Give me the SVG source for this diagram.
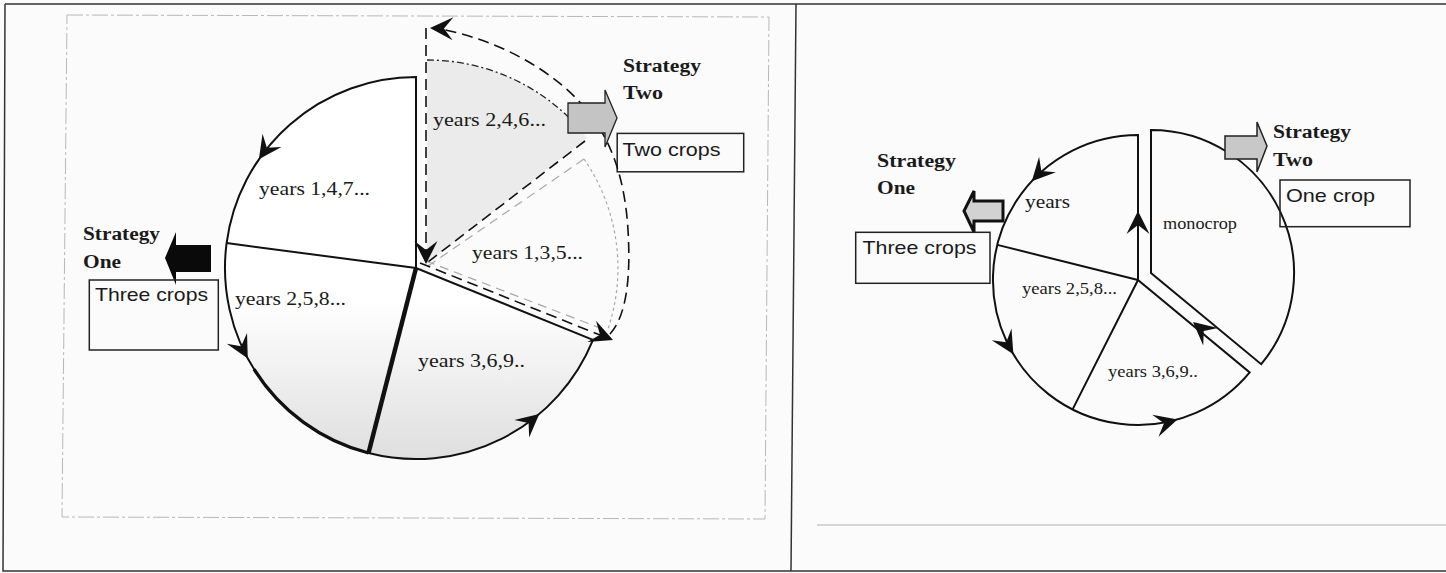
<svg xmlns="http://www.w3.org/2000/svg" width="1446" height="573" viewBox="0 0 1446 573">
<defs>
<style>
.ser{font-family:"Liberation Serif","Times New Roman",serif;fill:#1a1a1a}
.bold{font-weight:bold}
.sans{font-family:"Liberation Sans",Arial,sans-serif;fill:#1a1a1a}
.ln{stroke:#111;stroke-width:2;fill:none}
.box{fill:none;stroke:#222;stroke-width:1.5}
.dash{stroke:#111;stroke-width:1.6;fill:none;stroke-dasharray:11 6}
.gdash{stroke:#a8a8a8;stroke-width:1.2;fill:none;stroke-dasharray:9 6}
.gdot{stroke:#a8a8a8;stroke-width:1.2;fill:none;stroke-dasharray:3 3}
.dashdot{stroke:#222;stroke-width:1.3;fill:none;stroke-dasharray:7 3 2 3}
.ah{fill:#111}
</style>
<linearGradient id="lowg" gradientUnits="userSpaceOnUse" x1="0" y1="300" x2="0" y2="460">
<stop offset="0" stop-color="#ffffff"/><stop offset="1" stop-color="#dedede"/>
</linearGradient>
<path id="ah" d="M0,0 L-23,-11.5 L-14,0 L-23,11.5 Z"/>
</defs>
<rect width="1446" height="573" fill="#fbfbfb"/>
<g id="frame">
<path d="M5,4 H1446 M5,4 L3,571 H1446" stroke="#333" stroke-width="1.5" fill="none"/>
<line x1="796" y1="4" x2="791" y2="571" stroke="#333" stroke-width="1.5"/>
<polygon points="67,15 769,17 765,519 62,517" fill="none" stroke="#b8b8b8" stroke-width="1" stroke-dasharray="16 3 3 3"/>
<line x1="817" y1="525" x2="1446" y2="525" stroke="#b0b0b0" stroke-width="1"/>
</g>

<!-- LEFT PANEL -->
<g id="left-sector-247">
<path d="M427,263 L427,60 A203,203 0 0 1 587,138 Z" fill="#ebebeb"/>
<path class="dashdot" d="M427,60 A203,203 0 0 1 578,127"/>
<text class="ser" x="433" y="126" font-size="19" textLength="113" lengthAdjust="spacingAndGlyphs">years 2,4,6...</text>
</g>
<g id="left-sector-147">
<path d="M416,268 L416,77 A191,191 0 0 0 226.6,243.1 Z" fill="#fff"/>
<text class="ser" x="259" y="195" font-size="19" textLength="111" lengthAdjust="spacingAndGlyphs">years 1,4,7...</text>
</g>
<g id="left-sector-258">
<path d="M416,268 L226.6,243.1 A191,191 0 0 0 368.5,453 Z" fill="url(#lowg)"/>
<text class="ser" x="235" y="305" font-size="19" textLength="111" lengthAdjust="spacingAndGlyphs">years 2,5,8...</text>
</g>
<g id="left-sector-369">
<path d="M416,268 L368.5,453 A191,191 0 0 0 593,339.9 Z" fill="url(#lowg)"/>
<text class="ser" x="418" y="367" font-size="19" textLength="107" lengthAdjust="spacingAndGlyphs">years 3,6,9..</text>
</g>
<g id="left-sector-135">
<path class="gdash" d="M428,266 L584,159"/>
<path class="gdot" d="M584,159 A192,192 0 0 1 607.5,330.5"/>
<text class="ser" x="472" y="259" font-size="19" textLength="111" lengthAdjust="spacingAndGlyphs">years 1,3,5...</text>
</g>
<g id="left-pie-outline">
<path class="ln" d="M593,339.9 A191,191 0 0 1 368.5,453 A191,191 0 0 1 226.6,243.1 A191,191 0 0 1 416,77 L416,268"/>
<path class="ln" d="M226.6,243.1 L416,268 L593,339.9"/>
<path d="M416,268 L368.5,453" stroke="#111" stroke-width="4.5" fill="none"/>
<path d="M254,369.2 A191,191 0 0 0 368.5,453" stroke="#111" stroke-width="3.2" fill="none"/>
</g>
<g id="left-strategy-one">
<text class="ser bold" x="83" y="240" font-size="18.5" textLength="77" lengthAdjust="spacingAndGlyphs">Strategy</text>
<text class="ser bold" x="83" y="268" font-size="18.5" textLength="38" lengthAdjust="spacingAndGlyphs">One</text>
<path d="M211,245 L176,245 L176,232 L165,258 L176,285 L176,272 L211,272 Z" fill="#0a0a0a"/>
</g>
<g id="left-three-crops">
<rect class="box" x="89.3" y="280" width="129" height="70"/>
<text class="sans" x="95" y="301" font-size="19" textLength="113" lengthAdjust="spacingAndGlyphs">Three crops</text>
</g>
<g id="left-strategy-two">
<text class="ser bold" x="623" y="72" font-size="18.5" textLength="78" lengthAdjust="spacingAndGlyphs">Strategy</text>
<text class="ser bold" x="623" y="99" font-size="18.5" textLength="40" lengthAdjust="spacingAndGlyphs">Two</text>
</g>
<g id="left-two-crops">
<rect class="box" x="617.2" y="133.4" width="126.5" height="38.4"/>
<text class="sans" x="622.5" y="156" font-size="19" textLength="98" lengthAdjust="spacingAndGlyphs">Two crops</text>
</g>
<g id="left-connectors">
<path class="dash" d="M426,28 V255"/>
<path class="dash" d="M585,141 L428,262"/>
<path class="dash" d="M420,263 L600,335"/>
<path class="gdash" d="M426,261 L600,328"/>
<path class="dash" d="M610,334 C626,316 631,280 628,230 C625,180 612,140 585,108 C555,72 500,40 440,29"/>
<use href="#ah" class="ah" transform="translate(426,264) rotate(90)"/>
<use href="#ah" class="ah" transform="translate(430,28) rotate(182)"/>
<use href="#ah" class="ah" transform="translate(613,340) rotate(22)"/>
<use href="#ah" class="ah" transform="translate(258.9,159.3) rotate(124.7)"/>
<use href="#ah" class="ah" transform="translate(247.8,358.6) rotate(61.7)"/>
<use href="#ah" class="ah" transform="translate(539.3,413.9) rotate(-40.2)"/>
</g>
<g id="left-strategy-two-arrow">
<path d="M568,103 L605,103 L605,90 L617,118 L605,147 L605,133 L568,133 Z" fill="#c4c4c4" stroke="#222" stroke-width="1.3"/>
</g>

<!-- RIGHT PANEL -->
<g id="right-pie">
<path d="M1249.7,372.4 A145,145 0 1 1 1138,135 L1138,280 Z" fill="#fff" class="ln"/>
<path class="ln" d="M1138,280 L997.3,244.9 M1138,280 L1072.6,409.4"/>
<text class="ser" x="1025" y="208" font-size="18" textLength="45" lengthAdjust="spacingAndGlyphs">years</text>
<text class="ser" x="1022" y="294" font-size="16" textLength="95" lengthAdjust="spacingAndGlyphs">years 2,5,8...</text>
<text class="ser" x="1108" y="377" font-size="16" textLength="90" lengthAdjust="spacingAndGlyphs">years 3,6,9..</text>
</g>
<g id="right-monocrop">
<path d="M1151,273 L1151,130 A143,143 0 0 1 1261.2,364.2 Z" fill="#fff" class="ln"/>
<text class="ser" x="1163" y="229" font-size="16" textLength="74" lengthAdjust="spacingAndGlyphs">monocrop</text>
</g>
<g id="right-strategy-one">
<text class="ser bold" x="877" y="167" font-size="18.5" textLength="79" lengthAdjust="spacingAndGlyphs">Strategy</text>
<text class="ser bold" x="877" y="194" font-size="18.5" textLength="38" lengthAdjust="spacingAndGlyphs">One</text>
<path d="M1003,201 L974,201 L974,191 L964,211 L974,232 L974,221 L1003,221 Z" fill="#d2d2d2" stroke="#111" stroke-width="3"/>
</g>
<g id="right-three-crops">
<rect class="box" x="855.7" y="232.3" width="134.3" height="51"/>
<text class="sans" x="862.5" y="253.5" font-size="19" textLength="114" lengthAdjust="spacingAndGlyphs">Three crops</text>
</g>
<g id="right-strategy-two">
<path d="M1225,136 L1257,136 L1257,122 L1267,146 L1257,172 L1257,159 L1225,159 Z" fill="#c8c8c8" stroke="#222" stroke-width="1.5"/>
<text class="ser bold" x="1273" y="138" font-size="18.5" textLength="78" lengthAdjust="spacingAndGlyphs">Strategy</text>
<text class="ser bold" x="1273" y="166" font-size="18.5" textLength="40" lengthAdjust="spacingAndGlyphs">Two</text>
</g>
<g id="right-one-crop">
<rect class="box" x="1280" y="180" width="130" height="46.7"/>
<text class="sans" x="1286" y="202" font-size="19" textLength="89" lengthAdjust="spacingAndGlyphs">One crop</text>
</g>
<g id="right-connectors">
<use href="#ah" class="ah" transform="translate(1031.8,181.3) rotate(133)"/>
<use href="#ah" class="ah" transform="translate(1013.4,354.2) rotate(59.2)"/>
<use href="#ah" class="ah" transform="translate(1177.5,419.5) rotate(-15.8)"/>
<use href="#ah" class="ah" transform="translate(1193,322) rotate(220)"/>
<use href="#ah" class="ah" transform="translate(1138,211) rotate(-90)"/>
</g>
</svg>
